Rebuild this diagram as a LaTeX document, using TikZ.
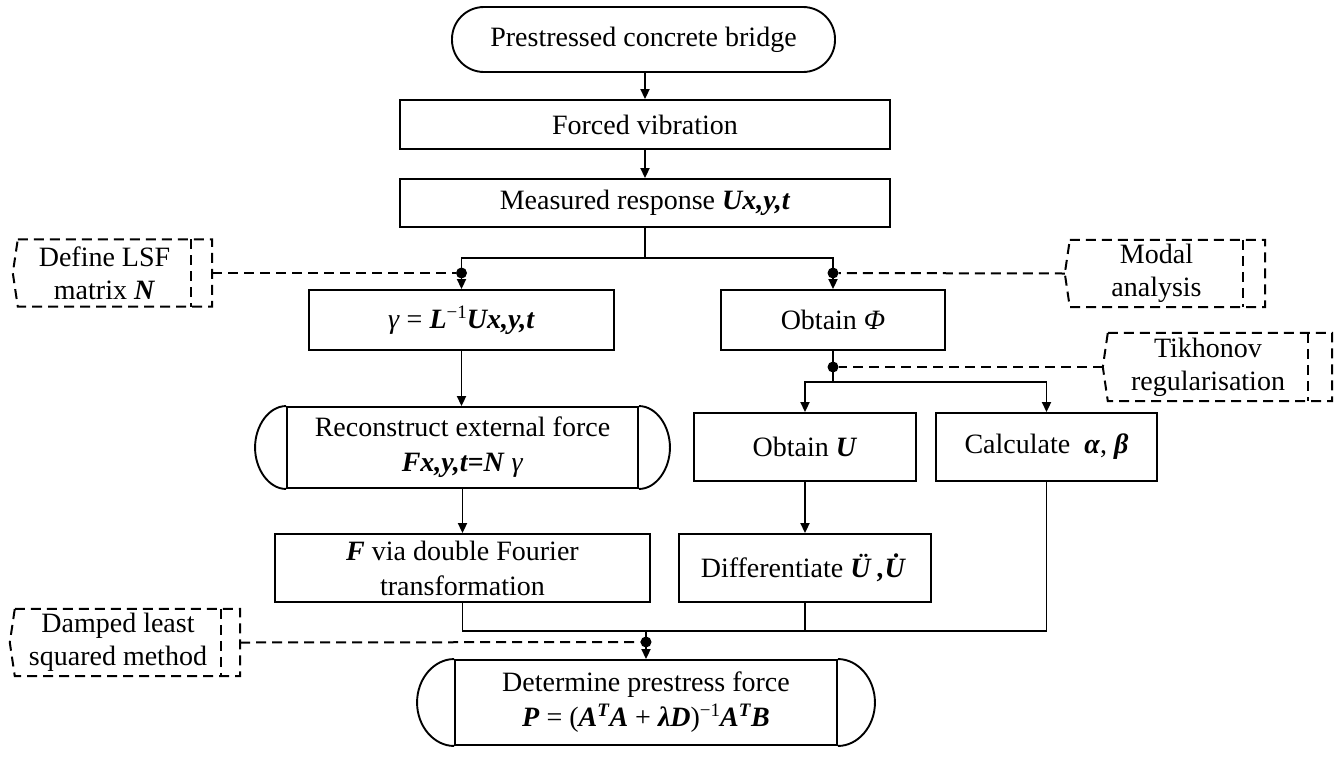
\documentclass[tikz,border=0pt]{standalone}
\usepackage{fontspec}
\setmainfont{Liberation Serif}
\usetikzlibrary{arrows.meta,calc}
\newcommand{\bfit}[1]{\textbf{\textit{#1}}}
\newcommand{\supr}[1]{\raisebox{0.8ex}{\fontsize{19}{19}\selectfont #1}}
% dashed annotation outline around node #1, extra right panel of width #2
\newcommand{\annotbox}[2]{%
  \draw[dashln] (#1.north east) -- (#1.south east);
  \draw[dashln] (#1.north west) -- ([xshift=#2]#1.north east) -- ([xshift=#2]#1.south east)
     -- (#1.south west) -- ([xshift=-5pt]#1.west) -- cycle;}
\begin{document}
\begin{tikzpicture}[x=1pt,y=-1pt,
  font=\fontsize{28}{35}\selectfont,
  proc/.style={draw, line width=1.9pt, inner sep=2pt, align=center},
  term/.style={proc, rounded corners=32pt},
  note/.style={draw=none, inner sep=0pt, align=center, font=\fontsize{28}{33}\selectfont},
  ln/.style={line width=1.9pt},
  arr/.style={line width=1.9pt, -{Triangle[length=10pt,width=9pt]}},
  dashln/.style={line width=2pt, dash pattern=on 10pt off 6pt},
  dotn/.style={circle, fill, inner sep=0pt, minimum size=11pt}]
\useasboundingbox (0,0) rectangle (1337,758);

% main column
\node[term, minimum width=383pt, minimum height=65pt] (bridge) at (643.5,39.5) {Prestressed concrete bridge};
\node[proc, minimum width=490pt, minimum height=49pt] (forced) at (645,124.5) {Forced vibration};
\node[proc, minimum width=490pt, minimum height=48pt] (meas) at (645,203) {Measured response \bfit{Ux,y,t}};

\node[proc, minimum width=305pt, minimum height=60pt] (gam) at (461.5,320) {\textit{γ} = \bfit{L}\supr{−1}\bfit{Ux,y,t}};
\node[proc, minimum width=224pt, minimum height=60pt] (phi) at (833,320) {Obtain \textit{Φ}};

\node[proc, minimum width=351pt, minimum height=81pt] (recon) at (462.5,447.5) {Reconstruct external force\\\bfit{Fx,y,t=N} \textit{γ}};
\node[proc, minimum width=222pt, minimum height=68pt] (obu) at (805,447) {Obtain \bfit{U}};
\node[proc, minimum width=221pt, minimum height=68pt] (calc) at (1046.5,447) {Calculate\ \ \bfit{α}, \bfit{β}};

\node[proc, minimum width=375pt, minimum height=68pt] (fvia) at (462.5,568) {\bfit{F} via double Fourier\\transformation};
\node[proc, minimum width=252pt, minimum height=68pt] (diff) at (805,568) {Differentiate \bfit{Ü ,U̇}};

\node[proc, minimum width=382pt, minimum height=85pt] (det) at (646,702.5) {Determine prestress force\\\bfit{P} = (\bfit{A}\supr{\bfit{T}}\bfit{A} + \bfit{λD})\supr{−1}\bfit{A}\supr{\bfit{T}}\bfit{B}};

% caps of the two terminal-like boxes
\draw[ln] (recon.north west) .. controls ([xshift=-17pt]recon.north west) and ([xshift=-31pt,yshift=22pt]recon.west) .. ([xshift=-31pt]recon.west)
  .. controls ([xshift=-31pt,yshift=-22pt]recon.west) and ([xshift=-17pt]recon.south west) .. (recon.south west);
\draw[ln] (recon.north east) .. controls ([xshift=17pt]recon.north east) and ([xshift=31pt,yshift=22pt]recon.east) .. ([xshift=31pt]recon.east)
  .. controls ([xshift=31pt,yshift=-22pt]recon.east) and ([xshift=17pt]recon.south east) .. (recon.south east);
\draw[ln] (det.north west) .. controls ([xshift=-20pt]det.north west) and ([xshift=-37pt,yshift=24pt]det.west) .. ([xshift=-37pt]det.west)
  .. controls ([xshift=-37pt,yshift=-24pt]det.west) and ([xshift=-20pt]det.south west) .. (det.south west);
\draw[ln] (det.north east) .. controls ([xshift=20pt]det.north east) and ([xshift=37pt,yshift=24pt]det.east) .. ([xshift=37pt]det.east)
  .. controls ([xshift=37pt,yshift=-24pt]det.east) and ([xshift=20pt]det.south east) .. (det.south east);

% annotation boxes
\node[note, minimum width=173pt, minimum height=67pt] (lsf) at (104.5,273) {Define LSF\\matrix \bfit{N}};
\annotbox{lsf}{21pt}
\node[note, minimum width=173pt, minimum height=67pt] (modal) at (1156.5,273.5) {Modal\\analysis};
\annotbox{modal}{22pt}
\node[note, minimum width=200pt, minimum height=68pt] (tikh) at (1208,367) {Tikhonov\\regularisation};
\annotbox{tikh}{24pt}
\node[note, minimum width=206pt, minimum height=67pt] (damp) at (118,642.5) {Damped least\\squared method};
\annotbox{damp}{19pt}

% junction coordinates and dots
\coordinate (jtop) at (645,258);
\coordinate (jmid) at (833,382);
\coordinate (jbot) at (646,631);
\coordinate (jbotL) at (462.5,631);
\coordinate (jbotR) at (1046.5,631);
\node[dotn] (dL) at (461.5,273) {};
\node[dotn] (dR) at (833,273) {};
\node[dotn] (dT) at (833,367) {};
\node[dotn] (dB) at (646,642) {};

% solid connectors
\draw[arr] (bridge.south -| forced.north) -- (forced.north);
\draw[arr] (forced.south) -- (meas.north);
\draw[ln] (meas.south) -- (jtop);
\draw[arr] (jtop) -| (gam.north);
\draw[arr] (jtop) -| (phi.north);
\draw[arr] (gam.south) -- (recon.north -| gam.south);
\draw[arr] (recon.south) -- (fvia.north);
\draw[ln] (phi.south) -- (jmid);
\draw[arr] (jmid) -| (obu.north);
\draw[arr] (jmid) -| (calc.north);
\draw[arr] (obu.south) -- (diff.north);
\draw[ln] (fvia.south) -- (jbotL) -- (jbotR) -- (calc.south);
\draw[ln] (diff.south) -- (diff.south |- jbot);
\draw[arr] (jbot) -- (det.north);

% dashed connectors
\draw[dashln] ([xshift=21pt]lsf.east) -- (dL);
\draw[dashln] ([xshift=-5pt]modal.west) -- (dR);
\draw[dashln] ([xshift=-5pt]tikh.west) -- (dT);
\draw[dashln] ([xshift=19pt]damp.east) -- (dB);
\end{tikzpicture}
\end{document}
